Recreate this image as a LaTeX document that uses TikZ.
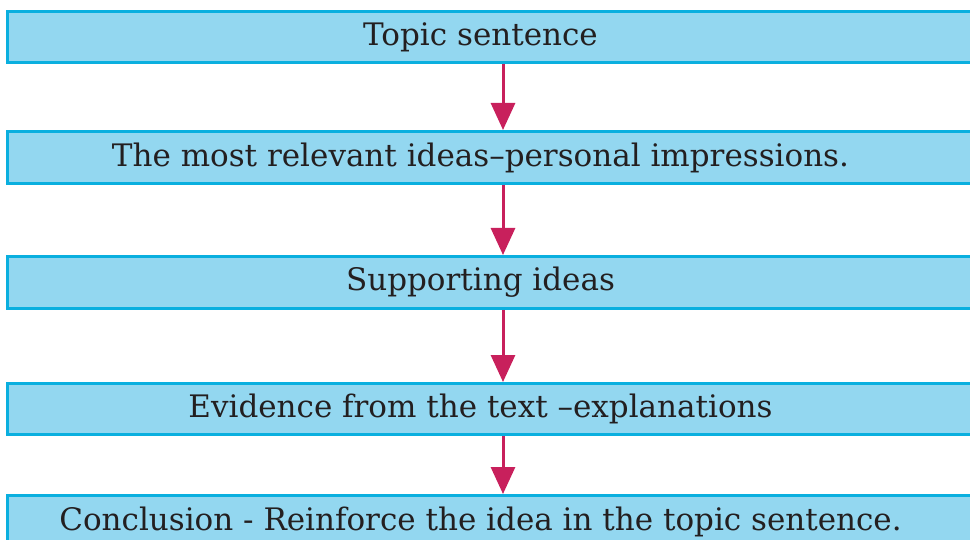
\documentclass[tikz,border=0pt]{standalone}
\usepackage{fontspec}
\setmainfont{DejaVu Serif}
\usetikzlibrary{arrows.meta}
\definecolor{boxfill}{HTML}{93D7F0}
\definecolor{boxline}{HTML}{0AAFDF}
\definecolor{arrowc}{HTML}{C8205C}
\definecolor{txt}{HTML}{231F20}
\begin{document}
\begin{tikzpicture}[x=1pt,y=-1pt,
  box/.style={draw=boxline, fill=boxfill, line width=3pt, minimum width=975pt,
    minimum height=51pt, anchor=north west, inner sep=0pt, text=txt,
    font=\fontsize{31}{36}\selectfont},
  flow/.style={arrowc, line width=3pt, -{Triangle[length=27pt,width=24pt]}}]
\useasboundingbox (0,0) rectangle (970,540);
\node[box] (b1) at (6,10) {Topic sentence\kern29pt};
\node[box, minimum height=52pt] (b2) at (6,130) {The most relevant ideas–personal impressions.\kern29pt};
\node[box, minimum height=52pt] (b3) at (6,255) {Supporting ideas\kern29pt};
\node[box] (b4) at (6,382) {Evidence from the text –explanations\kern29pt};
\node[box, minimum height=52pt] (b5) at (6,494) {Conclusion - Reinforce the idea in the topic sentence.\kern29pt};
\draw[flow] ([xshift=8pt]b1.south) -- ([xshift=8pt]b2.north);
\draw[flow] ([xshift=8pt]b2.south) -- ([xshift=8pt]b3.north);
\draw[flow] ([xshift=8pt]b3.south) -- ([xshift=8pt]b4.north);
\draw[flow] ([xshift=8pt]b4.south) -- ([xshift=8pt]b5.north);
\end{tikzpicture}
\end{document}
